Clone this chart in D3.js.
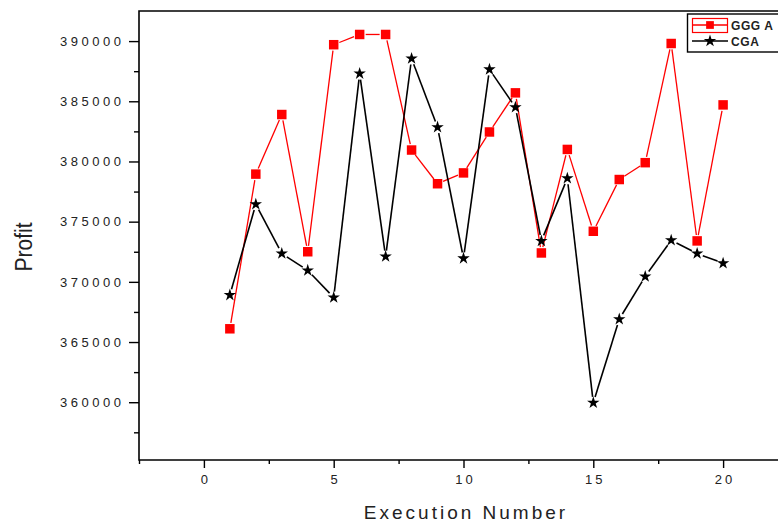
<!DOCTYPE html>
<html>
<head>
<meta charset="utf-8">
<script src="https://cdn.jsdelivr.net/npm/d3@7"></script>
<style>
  html, body { margin: 0; padding: 0; background: #fff; }
  svg { display: block; font-family: "Liberation Sans", Arial, sans-serif; }
</style>
</head>
<body>
<svg id="chart" width="778" height="522"></svg>
<script>
"use strict";

// Data ////////////////////////////////////////////////////
var runs = [1, 2, 3, 4, 5, 6, 7, 8, 9, 10, 11, 12, 13, 14, 15, 16, 17, 18, 19, 20];
var ggga = [366100, 378950, 383900, 372500, 389700, 390550, 390550, 380950, 378150, 379050,
            382450, 385700, 372400, 381000, 374200, 378500, 379900, 389800, 373400, 384700];
var cga  = [368900, 376450, 372350, 370950, 368700, 387300, 372100, 388550, 382850, 371950,
            387650, 384500, 373400, 378600, 359950, 366900, 370450, 373450, 372350, 371550];
var seriesNames = ["GGG A", "CGA"];
var yTicks = [360000, 365000, 370000, 375000, 380000, 385000, 390000];
var yMinor = [357500, 362500, 367500, 372500, 377500, 382500, 387500];
var xTicks = [0, 5, 10, 15, 20];
var xMinor = [-2.5, 2.5, 7.5, 12.5, 17.5];
var xTitle = "Execution Number";
var yTitle = "Profit";

// Layout //////////////////////////////////////////////////
var svg = d3.select("#chart"),
    pLeft = 139, pTop = 11, pRight = 788, pBottom = 460;

var x = d3.scaleLinear().domain([-2.5, 22.5]).range([pLeft, pRight]);
var y = d3.scaleLinear().domain([355200, 392500]).range([pBottom, pTop]);

// Axes
var styleAxis = function(g) {
  g.select(".domain").remove();
  g.selectAll("line").attr("stroke", "#000").attr("stroke-width", 1.4);
  g.selectAll("text").attr("fill", "#222").attr("font-size", 13);
};

svg.append("g")
    .attr("transform", "translate(" + pLeft + ",0)")
    .call(d3.axisLeft(y).tickValues(yTicks).tickSize(10).tickPadding(4.5).tickFormat(d3.format("d")))
    .call(styleAxis)
    .selectAll("text").attr("letter-spacing", 3.5);

svg.append("g")
    .attr("transform", "translate(" + pLeft + ",0)")
    .call(d3.axisLeft(y).tickValues(yMinor).tickSize(5).tickFormat(""))
    .call(styleAxis);

svg.append("g")
    .attr("transform", "translate(0," + pBottom + ")")
    .call(d3.axisBottom(x).tickValues(xTicks).tickSize(8).tickPadding(7).tickFormat(d3.format("d")))
    .call(styleAxis)
    .selectAll("text").attr("letter-spacing", 3).attr("dx", 1.5);

svg.append("g")
    .attr("transform", "translate(0," + pBottom + ")")
    .call(d3.axisBottom(x).tickValues(xMinor).tickSize(4).tickFormat(""))
    .call(styleAxis);

// Frame lines (left, bottom, top)
svg.append("path")
    .attr("d", "M" + pRight + "," + pTop + "H" + pLeft + "V" + pBottom + "H" + pRight)
    .attr("fill", "none")
    .attr("stroke", "#000")
    .attr("stroke-width", 1.6);

// Titles
svg.append("text")
    .attr("x", 466).attr("y", 519)
    .attr("text-anchor", "middle")
    .attr("font-size", 19)
    .attr("letter-spacing", 3)
    .attr("fill", "#222")
    .text(xTitle);

svg.append("text")
    .attr("transform", "translate(32,247) rotate(-90) scale(1,1.15)")
    .attr("text-anchor", "middle")
    .attr("font-size", 21)
    .attr("fill", "#222")
    .text(yTitle);

// Series //////////////////////////////////////////////////
var gap = 6;

var drawSeries = function(values, color, width, symbol, size) {
  var pts = values.map(function(v, i) { return [x(runs[i]), y(v)]; });
  var g = svg.append("g");

  // line segments, stopping short of the symbols
  d3.pairs(pts).forEach(function(p) {
    var dx = p[1][0] - p[0][0], dy = p[1][1] - p[0][1],
        len = Math.sqrt(dx * dx + dy * dy),
        ux = dx / len, uy = dy / len;
    g.append("line")
        .attr("x1", p[0][0] + ux * gap).attr("y1", p[0][1] + uy * gap)
        .attr("x2", p[1][0] - ux * gap).attr("y2", p[1][1] - uy * gap)
        .attr("stroke", color)
        .attr("stroke-width", width);
  });

  g.selectAll("path.mark")
      .data(pts)
    .enter().append("path")
      .attr("class", "mark")
      .attr("transform", function(d) { return "translate(" + d[0] + "," + d[1] + ")"; })
      .attr("d", d3.symbol().type(symbol).size(size))
      .attr("fill", color);
};

drawSeries(ggga, "#ff0000", 1.3, d3.symbolSquare, 90);
drawSeries(cga, "#000", 1.6, d3.symbolStar, 48);

// Legend //////////////////////////////////////////////////
var legend = svg.append("g");

legend.append("rect")
    .attr("x", 687.5).attr("y", 14)
    .attr("width", 100).attr("height", 38)
    .attr("fill", "#fff")
    .attr("stroke", "#000")
    .attr("stroke-width", 1.4);

legend.append("rect")
    .attr("x", 692.5).attr("y", 18.5)
    .attr("width", 35).attr("height", 14)
    .attr("fill", "none")
    .attr("stroke", "#ff0000")
    .attr("stroke-width", 1.2);

legend.append("line")
    .attr("x1", 692).attr("x2", 728).attr("y1", 25).attr("y2", 25)
    .attr("stroke", "#ff0000").attr("stroke-width", 1.3);

legend.append("path")
    .attr("transform", "translate(710,25)")
    .attr("d", d3.symbol().type(d3.symbolSquare).size(60))
    .attr("fill", "#ff0000");

legend.append("line")
    .attr("x1", 692).attr("x2", 728).attr("y1", 41).attr("y2", 41)
    .attr("stroke", "#000").attr("stroke-width", 1.5);

legend.append("path")
    .attr("transform", "translate(710,41)")
    .attr("d", d3.symbol().type(d3.symbolStar).size(48))
    .attr("fill", "#000");

legend.selectAll("text.lab")
    .data(seriesNames)
  .enter().append("text")
    .attr("class", "lab")
    .attr("x", 731)
    .attr("y", function(d, i) { return 29.5 + i * 16; })
    .attr("font-size", 12)
    .attr("font-weight", "bold")
    .attr("letter-spacing", 0.6)
    .attr("fill", "#222")
    .text(function(d) { return d; });
</script>
</body>
</html>
